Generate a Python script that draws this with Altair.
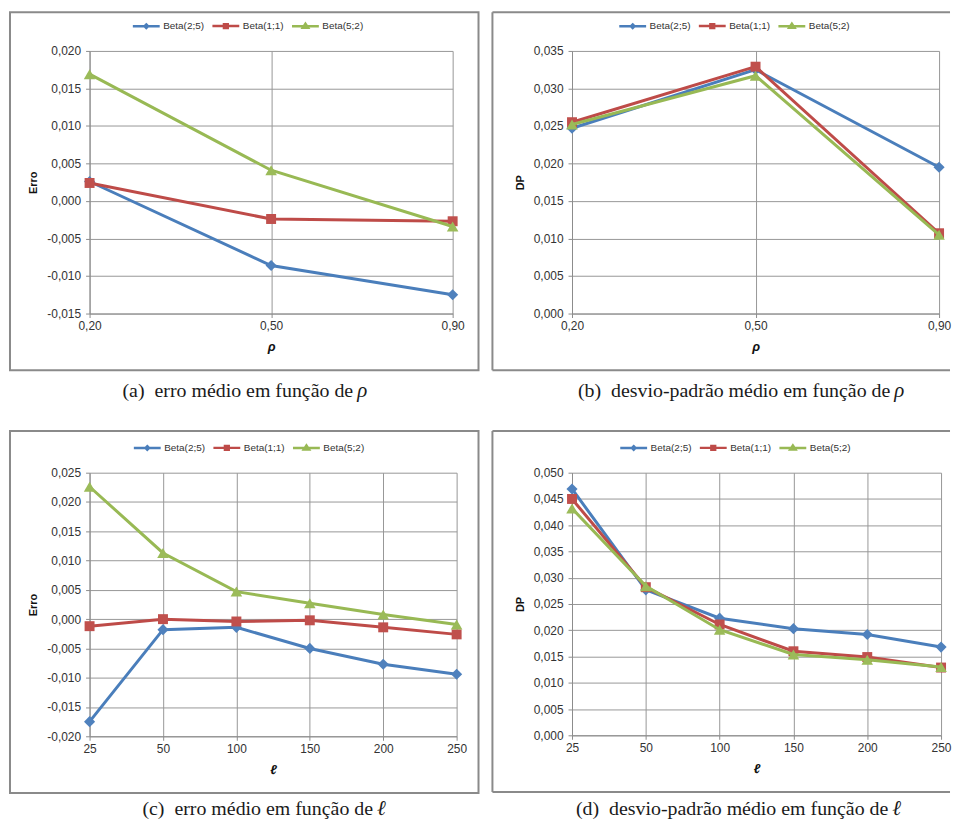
import altair as alt
import pandas as pd

# ---------------- data ----------------
series = ["Beta(2;5)", "Beta(1;1)", "Beta(5;2)"]
line_colors = ["#4A7EBB", "#BE4B48", "#98B954"]
marker_colors = ["#4F81BD", "#C0504D", "#9BBB59"]
marker_shapes = ["diamond", "square", "triangle-up"]
marker_sizes = [125, 100, 135]
legend_paths = [
    "M-1,0H1M0,-0.13L0.13,0L0,0.13L-0.13,0Z",
    "M-1,0H1M-0.14,-0.14H0.14V0.14H-0.14Z",
    "M-1,0H1M0,-0.19L0.2,0.12H-0.2Z",
]

rho_labels = ["0,20", "0,50", "0,90"]
ell_labels = ["25", "50", "100", "150", "200", "250"]

# (a) erro medio x rho
erro_rho_b25 = [0.0026, -0.0086, -0.0125]
erro_rho_b11 = [0.0024, -0.0024, -0.0027]
erro_rho_b52 = [0.0169, 0.0041, -0.0034]
# (b) desvio-padrao x rho
dp_rho_b25 = [0.0247, 0.0325, 0.0195]
dp_rho_b11 = [0.0255, 0.0329, 0.0107]
dp_rho_b52 = [0.0252, 0.0317, 0.0105]
# (c) erro medio x ell
erro_ell_b25 = [-0.0175, -0.0018, -0.0014, -0.0050, -0.0077, -0.0094]
erro_ell_b11 = [-0.0012, 0.0000, -0.0004, -0.0002, -0.0014, -0.0026]
erro_ell_b52 = [0.0226, 0.0113, 0.0047, 0.0027, 0.0008, -0.0009]
# (d) desvio-padrao x ell
dp_ell_b25 = [0.0469, 0.0277, 0.0223, 0.0203, 0.0192, 0.0168]
dp_ell_b11 = [0.0450, 0.0282, 0.0211, 0.0160, 0.0149, 0.0129]
dp_ell_b52 = [0.0432, 0.0284, 0.0201, 0.0154, 0.0144, 0.0130]

FRAME = "#8a8a8a"
GRID = "#979797"
AXISC = "#8c8c8c"
LABEL_EXPR = "replace(replace(format(datum.value, '.3f'), '.', ','), '\u2212', '-')"


def one_row(v):
    return alt.Chart(alt.Data(values=[{"t": v}]))


def panel(cats, values, ytitle, xtitle, ydom, ystep, width, height,
          legend_x, frame_top, frame_right, right_open,
          cap_main, cap_sym, cap_x, cap_y):
    rows = []
    for s, vals in zip(series, values):
        for c, v in zip(cats, vals):
            rows.append({"x": c, "y": v, "series": s})
    df = pd.DataFrame(rows)
    n = int(round((ydom[1] - ydom[0]) / ystep))
    yticks = [round(ydom[0] + i * ystep, 4) for i in range(n + 1)]

    xenc = alt.X(
        "x:N", sort=cats,
        scale=alt.Scale(type="point", padding=0),
        axis=alt.Axis(title=xtitle, labelAngle=0, labelPadding=3, titlePadding=9,
                      titleFontStyle="italic", titleFontSize=13,
                      grid=True, gridColor=GRID, gridWidth=1),
    )
    yenc = alt.Y(
        "y:Q",
        scale=alt.Scale(domain=ydom, nice=False, zero=False),
        axis=alt.Axis(title=ytitle, values=yticks, labelExpr=LABEL_EXPR,
                      labelPadding=5, titlePadding=8, grid=True,
                      gridColor=GRID, gridWidth=1),
    )

    layers = []
    # outer frame (decoration)
    fl, fb = -80, height + 57
    if not right_open:
        layers.append(
            one_row(1).mark_rect(fill="white", fillOpacity=0, stroke=FRAME, strokeWidth=2)
            .encode(x=alt.value(fl), x2=alt.value(frame_right),
                    y=alt.value(frame_top), y2=alt.value(fb))
        )
    else:
        rule = one_row(1).mark_rule(color=FRAME, strokeWidth=2)
        layers.append(rule.encode(x=alt.value(fl), x2=alt.value(frame_right), y=alt.value(frame_top)))
        layers.append(rule.encode(x=alt.value(fl), x2=alt.value(frame_right), y=alt.value(fb)))
        layers.append(rule.encode(x=alt.value(fl), y=alt.value(frame_top), y2=alt.value(fb)))

    for i, s in enumerate(series):
        base = alt.Chart(df).transform_filter(alt.datum.series == s)
        layers.append(base.mark_line(color=line_colors[i], strokeWidth=3).encode(x=xenc, y=yenc))
        layers.append(
            base.mark_point(filled=True, shape=marker_shapes[i], size=marker_sizes[i],
                            color=marker_colors[i], opacity=1)
            .encode(x=xenc, y=yenc)
        )

    leg = alt.Legend(
        title=None, orient="none", legendX=legend_x, legendY=-40,
        direction="horizontal", symbolSize=729, symbolStrokeWidth=2.5,
        symbolOpacity=1, labelOffset=2, columnPadding=2, padding=0,
        labelFont="Liberation Sans", labelFontSize=10, labelColor="#333333",
    )
    layers.append(
        alt.Chart(df).transform_filter("false").mark_point(filled=True, opacity=1)
        .encode(
            x=xenc, y=yenc,
            fill=alt.Fill("series:N", scale=alt.Scale(domain=series, range=line_colors), legend=leg),
            stroke=alt.Stroke("series:N", scale=alt.Scale(domain=series, range=line_colors), legend=leg),
            shape=alt.Shape("series:N", scale=alt.Scale(domain=series, range=legend_paths), legend=leg),
        )
    )

    # caption below the frame
    layers.append(
        one_row(cap_main).mark_text(align="right", baseline="alphabetic",
                                    font="Liberation Serif", fontSize=20, color="#1a1a1a")
        .encode(text="t:N", x=alt.value(cap_x), y=alt.value(cap_y))
    )
    layers.append(
        one_row(cap_sym).mark_text(align="left", baseline="alphabetic",
                                   font="Liberation Serif", fontSize=21, fontStyle="italic",
                                   color="#1a1a1a")
        .encode(text="t:N", x=alt.value(cap_x + 4), y=alt.value(cap_y))
    )

    return alt.layer(*layers).properties(width=width, height=height)


pa = panel(rho_labels, [erro_rho_b25, erro_rho_b11, erro_rho_b52], "Erro", "\u03c1",
           [-0.015, 0.020], 0.005, 365, 264, 42, -39, 391, False,
           "(a)\u00a0 erro médio em função de", "\u03c1", 265, 348)
pb = panel(rho_labels, [dp_rho_b25, dp_rho_b11, dp_rho_b52], "DP", "\u03c1",
           [0.0, 0.035], 0.005, 369, 264, 46, -39, 380, True,
           "(b)\u00a0 desvio-padrão médio em função de", "\u03c1", 320, 348)
pc = panel(ell_labels, [erro_ell_b25, erro_ell_b11, erro_ell_b52], "Erro", "\u2113",
           [-0.020, 0.025], 0.005, 369, 265, 43, -42, 391, False,
           "(c)\u00a0 erro médio em função de", "\u2113", 285, 344)
pd_ = panel(ell_labels, [dp_ell_b25, dp_ell_b11, dp_ell_b52], "DP", "\u2113",
            [0.0, 0.050], 0.005, 371, 264, 47, -42, 380, True,
            "(d)\u00a0 desvio-padrão médio em função de", "\u2113", 318, 344)

chart = (
    alt.concat(pa, pb, pc, pd_, columns=2, spacing={"row": 27, "column": 10})
    .properties(align="each", padding=0, background="white")
    .resolve_scale(x="independent", y="independent", fill="independent",
                   stroke="independent", shape="independent")
    .resolve_legend(fill="independent", stroke="independent", shape="independent")
    .configure_view(stroke="transparent")
    .configure_axis(
        labelFont="Liberation Sans", labelFontSize=12, labelColor="#333333",
        domainColor=AXISC, domainWidth=1, tickColor=AXISC, tickSize=4,
        titleFont="Liberation Sans", titleFontSize=11, titleFontWeight="bold",
        titleColor="#111111",
    )
)

chart.save("out.html", embed_options={"renderer": "svg", "actions": False})
